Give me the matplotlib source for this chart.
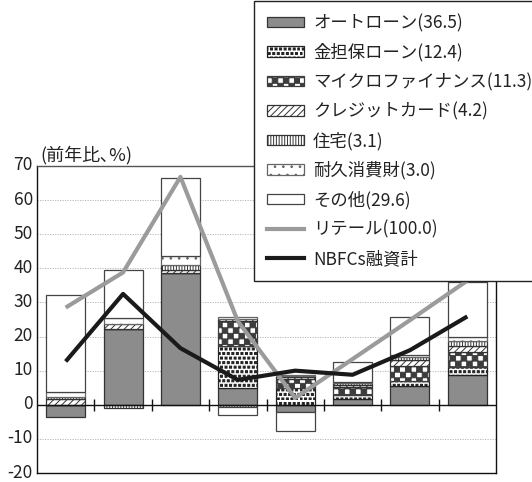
import numpy as np
import matplotlib
matplotlib.use("Agg")
import matplotlib.pyplot as plt
import matplotlib.hatch as mhatch
import matplotlib.transforms as mtrans
from matplotlib.path import Path
from matplotlib.patches import Patch
from matplotlib.lines import Line2D

# ---------------- data ----------------
n_periods = 8
series_names = ["オートローン(36.5)", "金担保ローン(12.4)", "マイクロファイナンス(11.3)",
                "クレジットカード(4.2)", "住宅(3.1)", "耐久消費財(3.0)", "その他(29.6)"]
auto_loan   = [-3.7, 22.3, 38.6,  4.8, -2.0, 1.8,  5.6,  8.6]
gold_loan   = [ 0.0,  0.0,  0.0, 12.4,  4.9, 1.2,  1.4,  2.6]
micro_fin   = [ 0.0,  0.0,  0.0,  7.3,  2.6, 2.2,  4.4,  4.4]
credit_card = [ 1.8,  1.5,  0.8,  0.6,  0.5, 0.7,  1.8,  1.5]
housing     = [ 0.4, -1.0,  1.7, -0.7,  0.5, 0.5,  0.8,  1.5]
durables    = [ 1.5,  1.6,  2.6,  0.5,  0.3, 0.4,  0.7,  1.2]
others      = [28.5, 14.0, 22.8, -2.2, -5.8, 5.7, 11.0, 16.1]
retail_name = "リテール(100.0)"
retail      = [28.5, 38.8, 66.8, 24.5,  2.0, 13.4, 24.8, 36.4]
nbfc_name   = "NBFCs融資計"
nbfc_total  = [12.7, 32.5, 16.6,  7.3, 10.0,  8.8, 16.0, 25.9]
y_ticks     = [-20, -10, 0, 10, 20, 30, 40, 50, 60, 70]
y_title     = "(前年比､%)"

# ---------------- custom hatches ----------------
class CheckerHatch(mhatch.HatchPatternBase):
    char = 'O'
    per = 18
    def __init__(self, hatch, density):
        k = hatch.count(self.char)
        self.n = int(k * self.per)
        if self.n % 2:
            self.n += 1
        self.num_vertices = (self.n * self.n // 2) * 5
    def set_vertices_and_codes(self, vertices, codes):
        n = self.n
        s = 1.0 / n
        v = []
        c = []
        for i in range(n):
            for j in range(n):
                if (i + j) % 2 == 0:
                    x0, y0 = i * s, j * s
                    v += [[x0, y0], [x0 + s, y0], [x0 + s, y0 + s], [x0, y0 + s], [x0, y0]]
                    c += [Path.MOVETO, Path.LINETO, Path.LINETO, Path.LINETO, Path.CLOSEPOLY]
        vertices[:] = np.array(v)
        codes[:] = np.array(c)

class DotSquareHatch(mhatch.HatchPatternBase):
    char = '*'
    per = 22
    frac = 0.45
    def __init__(self, hatch, density):
        k = hatch.count(self.char)
        self.n = int(k * self.per)
        self.num_vertices = self.n * self.n * 5
    def set_vertices_and_codes(self, vertices, codes):
        n = self.n
        if n == 0:
            return
        s = 1.0 / n
        d = s * self.frac
        v = []
        c = []
        for i in range(n):
            for j in range(n):
                off = (s / 2) if (j % 2) else 0.0
                x0 = (i * s + off) % 1.0
                y0 = j * s
                v += [[x0, y0], [x0 + d, y0], [x0 + d, y0 + d], [x0, y0 + d], [x0, y0]]
                c += [Path.MOVETO, Path.LINETO, Path.LINETO, Path.LINETO, Path.CLOSEPOLY]
        vertices[:] = np.array(v)
        codes[:] = np.array(c)

mhatch._hatch_types[:] = [t for t in mhatch._hatch_types
                          if t not in (mhatch.LargeCircles, mhatch.Stars)]
mhatch._hatch_types.append(CheckerHatch)
mhatch._hatch_types.append(DotSquareHatch)

# ---------------- style ----------------
plt.rcParams['font.family'] = ['Noto Sans CJK JP', 'DejaVu Sans']
plt.rcParams['axes.unicode_minus'] = False
plt.rcParams['hatch.linewidth'] = 0.7

series = [auto_loan, gold_loan, micro_fin, credit_card, housing, durables, others]
faces = ['#8c8c8c', 'white', 'white', 'white', 'white', 'white', 'white']
edges = ['#333333', '#222222', '#3c3c3c', '#333333', '#333333', '#666666', '#444444']
hatches = [None, '*', 'O', '/////', '||||||', '..', None]

fig = plt.figure(figsize=(5.32, 4.82), dpi=100)
ax = fig.add_axes([37 / 532, 1 - 473 / 482, (496 - 37) / 532, (473 - 166) / 482])

x = np.arange(n_periods)
pos_base = np.zeros(n_periods)
neg_base = np.zeros(n_periods)
bw = 0.68
for vals, fc, ec, h in zip(series, faces, edges, hatches):
    vals = np.asarray(vals, dtype=float)
    bottoms = np.where(vals >= 0, pos_base, neg_base)
    ax.bar(x, vals, bw, bottom=bottoms, color=fc, edgecolor=ec, hatch=h,
           linewidth=0.9, zorder=3)
    pos_base = pos_base + np.where(vals >= 0, vals, 0)
    neg_base = neg_base + np.where(vals < 0, vals, 0)

ax.plot(x, retail, color='#9b9b9b', lw=3.0, zorder=5, solid_capstyle='butt')
ax.plot(x, nbfc_total, color='#1a1a1a', lw=3.0, zorder=6, solid_capstyle='butt')

ax.set_xlim(-0.5, n_periods - 0.5)
ax.set_ylim(y_ticks[0], y_ticks[-1])
ax.set_yticks(y_ticks)
ax.set_yticklabels([str(t) for t in y_ticks], fontsize=12.5)
ax.tick_params(axis='y', length=0, pad=3, colors='#222222')
shift_up = mtrans.ScaledTranslation(0, 2.5 / 100, fig.dpi_scale_trans)
for lab in ax.get_yticklabels():
    lab.set_transform(lab.get_transform() + shift_up)
ax.set_xticks([])

for t in y_ticks[1:-1]:
    if t != 0:
        ax.axhline(t, color='#b0b0b0', lw=0.6, ls=(0, (1.5, 1.5)), zorder=1)
ax.axhline(0, color='#111111', lw=1.0, zorder=4)
ax.plot(x[:-1] + 0.5, np.zeros(n_periods - 1), ls='', marker='|', ms=9,
        mew=1.0, color='#111111', zorder=4)

for side in ['left', 'bottom', 'right']:
    ax.spines[side].set_color('#111111')
    ax.spines[side].set_linewidth(1.0)
ax.spines['top'].set_color('#555555')
ax.spines['top'].set_linewidth(1.0)

fig.text(40 / 532, 1 - 155 / 482, y_title, fontsize=13, va='center', ha='left',
         color='#222222')

handles = [Patch(facecolor=fc, edgecolor=ec, hatch=h, linewidth=0.9)
           for fc, ec, h in zip(faces, edges, hatches)]
handles += [Line2D([], [], color='#9b9b9b', lw=3.0),
            Line2D([], [], color='#1a1a1a', lw=3.0)]
labels = series_names + [retail_name, nbfc_name]
leg = fig.legend(handles, labels, loc='upper left',
                 bbox_to_anchor=(254 / 532, 1 - 1 / 482), borderaxespad=0,
                 fontsize=12.5, frameon=True, fancybox=False, framealpha=1,
                 edgecolor='#222222', handlelength=2.15, handleheight=0.55,
                 handletextpad=0.5, labelspacing=0.64, borderpad=0.75)
leg.get_frame().set_linewidth(1.0)
for t in leg.get_texts():
    t.set_color('#222222')

fig.savefig('out.png', dpi=100)
